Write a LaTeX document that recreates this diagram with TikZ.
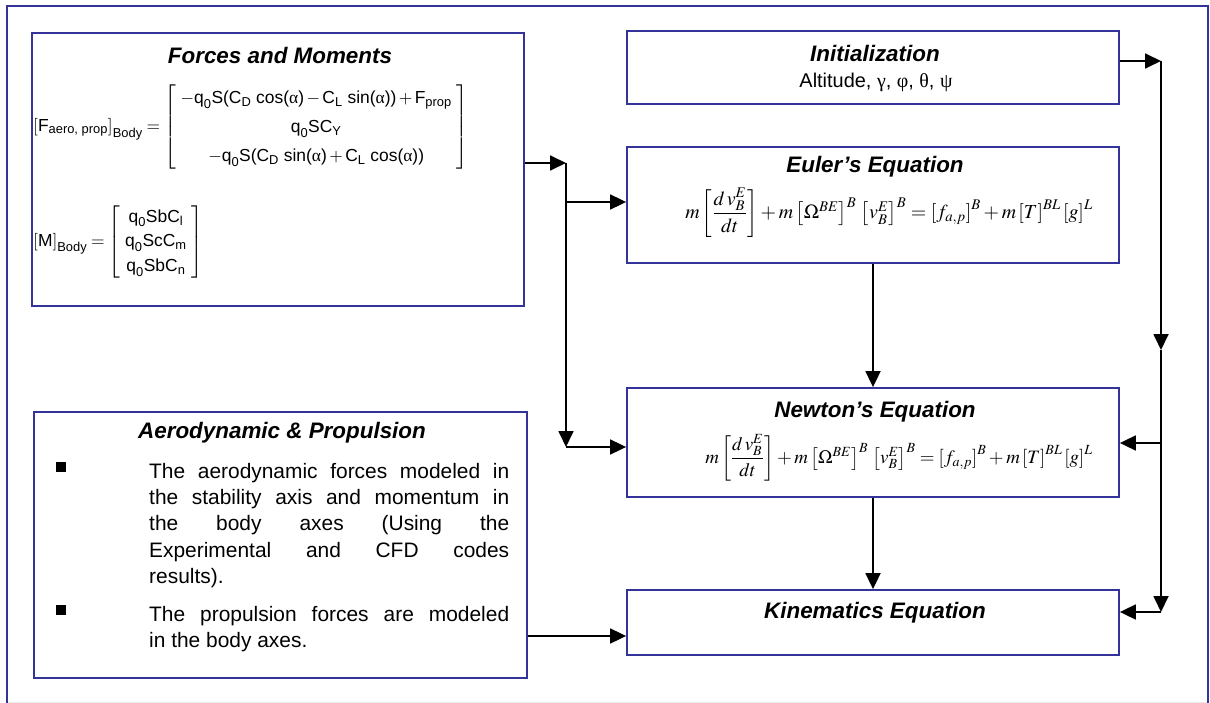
\documentclass[tikz,border=0pt]{standalone}
\usepackage{amsmath}
\usepackage{mathptmx}
\usepackage[no-math]{fontspec}
\setmainfont{Liberation Sans}
\newfontfamily\grk{Liberation Serif}
\usetikzlibrary{arrows.meta}
\definecolor{frameblue}{RGB}{51,51,153}
\newcommand\alp{\text{\grk α}}
\newcommand\sbs[2]{\text{#1}_{\text{#2}}}
\tikzset{
  box/.style={draw=frameblue, line width=1.8bp, fill=white, inner sep=0pt},
  ttl/.style={font=\fontsize{22.5}{26}\selectfont\bfseries\itshape, inner sep=0pt},
  arr/.style={black, line width=1.8bp, -{Triangle[length=16bp,width=15bp]}},
  bulletsq/.style={fill=black, minimum size=10bp, inner sep=0pt},
}
\begin{document}
\begin{tikzpicture}[x=1bp,y=-1bp]
\useasboundingbox (0,0) rectangle (1210,703);
% outer frame
\draw[draw=gray!15, line width=1bp] (7,702) -- (1208,702);
\draw[draw=frameblue, line width=1.8bp] (7,704) -- (7,6) -- (1208,6) -- (1208,704);

% boxes
\node[box, minimum width=492bp, minimum height=273bp] (forces) at (278,169.5) {};
\node[box, minimum width=492bp, minimum height=73bp] (init) at (873,67.5) {};
\node[box, minimum width=492bp, minimum height=116bp] (euler) at (873,205) {};
\node[box, minimum width=492bp, minimum height=109bp] (newton) at (873,442.5) {};
\node[box, minimum width=492bp, minimum height=65bp] (kin) at (873,622.5) {};
\node[box, minimum width=493bp, minimum height=266bp] (aero) at (280.5,545) {};

% Forces and Moments
\node[ttl] (ftitle) at (280,55) {Forces and Moments};
\node[anchor=west, inner sep=0pt] (feq) at (33,127) {\fontsize{17.5}{21.6}\selectfont\renewcommand\arraystretch{1.35}%
$\left[\sbs{F}{aero, prop}\right]_{\text{Body}} = \left[\begin{array}{c}
-\sbs{q}{0}\text{S(}\sbs{C}{D}\text{ cos(}\alp\text{)} - \sbs{C}{L}\text{ sin(}\alp\text{))} + \sbs{F}{prop}\\
\sbs{q}{0}\text{S}\sbs{C}{Y}\\
-\sbs{q}{0}\text{S(}\sbs{C}{D}\text{ sin(}\alp\text{)} + \sbs{C}{L}\text{ cos(}\alp\text{))}
\end{array}\right]$};
\node[anchor=west, inner sep=0pt] (meq) at (33,242) {\fontsize{17.5}{21.6}\selectfont\renewcommand\arraystretch{1.16}%
$\left[\text{M}\right]_{\text{Body}} = \left[\begin{array}{c}
\sbs{q}{0}\text{Sb}\sbs{C}{l}\\
\sbs{q}{0}\text{Sc}\sbs{C}{m}\\
\sbs{q}{0}\text{Sb}\sbs{C}{n}
\end{array}\right]$};

% Initialization
\node[ttl] (ititle) at (875,53) {Initialization};
\node[inner sep=0pt, font=\fontsize{20}{24}\selectfont] (ialt) at (876,82) {Altitude, {\grk γ}, {\grk φ}, {\grk θ}, {\grk ψ}};

% Euler
\node[ttl] (etitle) at (875,167) {Euler’s Equation};
\node[inner sep=0pt] (eeq) at (889,213) {\fontsize{20}{24}\selectfont
$m\left[\dfrac{d\,v_{B}^{E}}{dt}\right] + m\left[\Omega^{BE}\right]^{B}\,\left[v_{B}^{E}\right]^{B} = \left[f_{a,p}\right]^{B} + m\left[T\right]^{BL}\left[g\right]^{L}$};

% Newton
\node[ttl] (ntitle) at (875,412) {Newton’s Equation};
\node[inner sep=0pt] (neq) at (899,458) {\fontsize{19}{23}\selectfont
$m\left[\dfrac{d\,v_{B}^{E}}{dt}\right] + m\left[\Omega^{BE}\right]^{B}\,\left[v_{B}^{E}\right]^{B} = \left[f_{a,p}\right]^{B} + m\left[T\right]^{BL}\left[g\right]^{L}$};

% Kinematics
\node[ttl] (ktitle) at (875,613) {Kinematics Equation};

% Aerodynamic & Propulsion
\node[ttl] (atitle) at (282,433) {Aerodynamic \& Propulsion};
\node[bulletsq] (b1) at (61,467) {};
\node[bulletsq] (b2) at (61,610) {};
\node[anchor=base west, inner sep=0pt] (p1) at (149,478) {\parbox[t]{360bp}{\fontsize{21}{26.5}\selectfont
\makebox[\linewidth][s]{The aerodynamic forces modeled in}\\
\makebox[\linewidth][s]{the stability axis and momentum in}\\
\makebox[\linewidth][s]{the body axes (Using the}\\
\makebox[\linewidth][s]{Experimental and CFD codes}\\
results).}};
\node[anchor=base west, inner sep=0pt] (p2) at (149,621) {\parbox[t]{360bp}{\fontsize{21}{27}\selectfont
\makebox[\linewidth][s]{The propulsion forces are modeled}\\
in the body axes.}};

% connectors, left trunk
\coordinate (L1) at (566,163);
\coordinate (L2) at (566,202);
\coordinate (L3) at (566,447);
\draw[arr] (L1 -| forces.east) -- (L1);
\draw[arr] (L1) -- (L3);
\draw[arr] (L2) -- (L2 -| euler.west);
\draw[arr] (L3) -- (L3 -| newton.west);

% vertical chain
\draw[arr] (euler.south) -- (newton.north);
\draw[arr] (newton.south) -- (kin.north);

% aero to kinematics
\coordinate (A) at (575,636);
\draw[arr] (A -| aero.east) -- (A -| kin.west);

% right trunk
\coordinate (R1) at (1161,61);
\coordinate (R2) at (1161,350);
\coordinate (R3) at (1161,443);
\coordinate (R4) at (1161,612);
\draw[arr] (R1 -| init.east) -- (R1);
\draw[arr] (R1) -- (R2);
\draw[arr] (R2) -- (R4);
\draw[arr] (R3) -- (R3 -| newton.east);
\draw[arr] (R4) -- (R4 -| kin.east);
\end{tikzpicture}
\end{document}
